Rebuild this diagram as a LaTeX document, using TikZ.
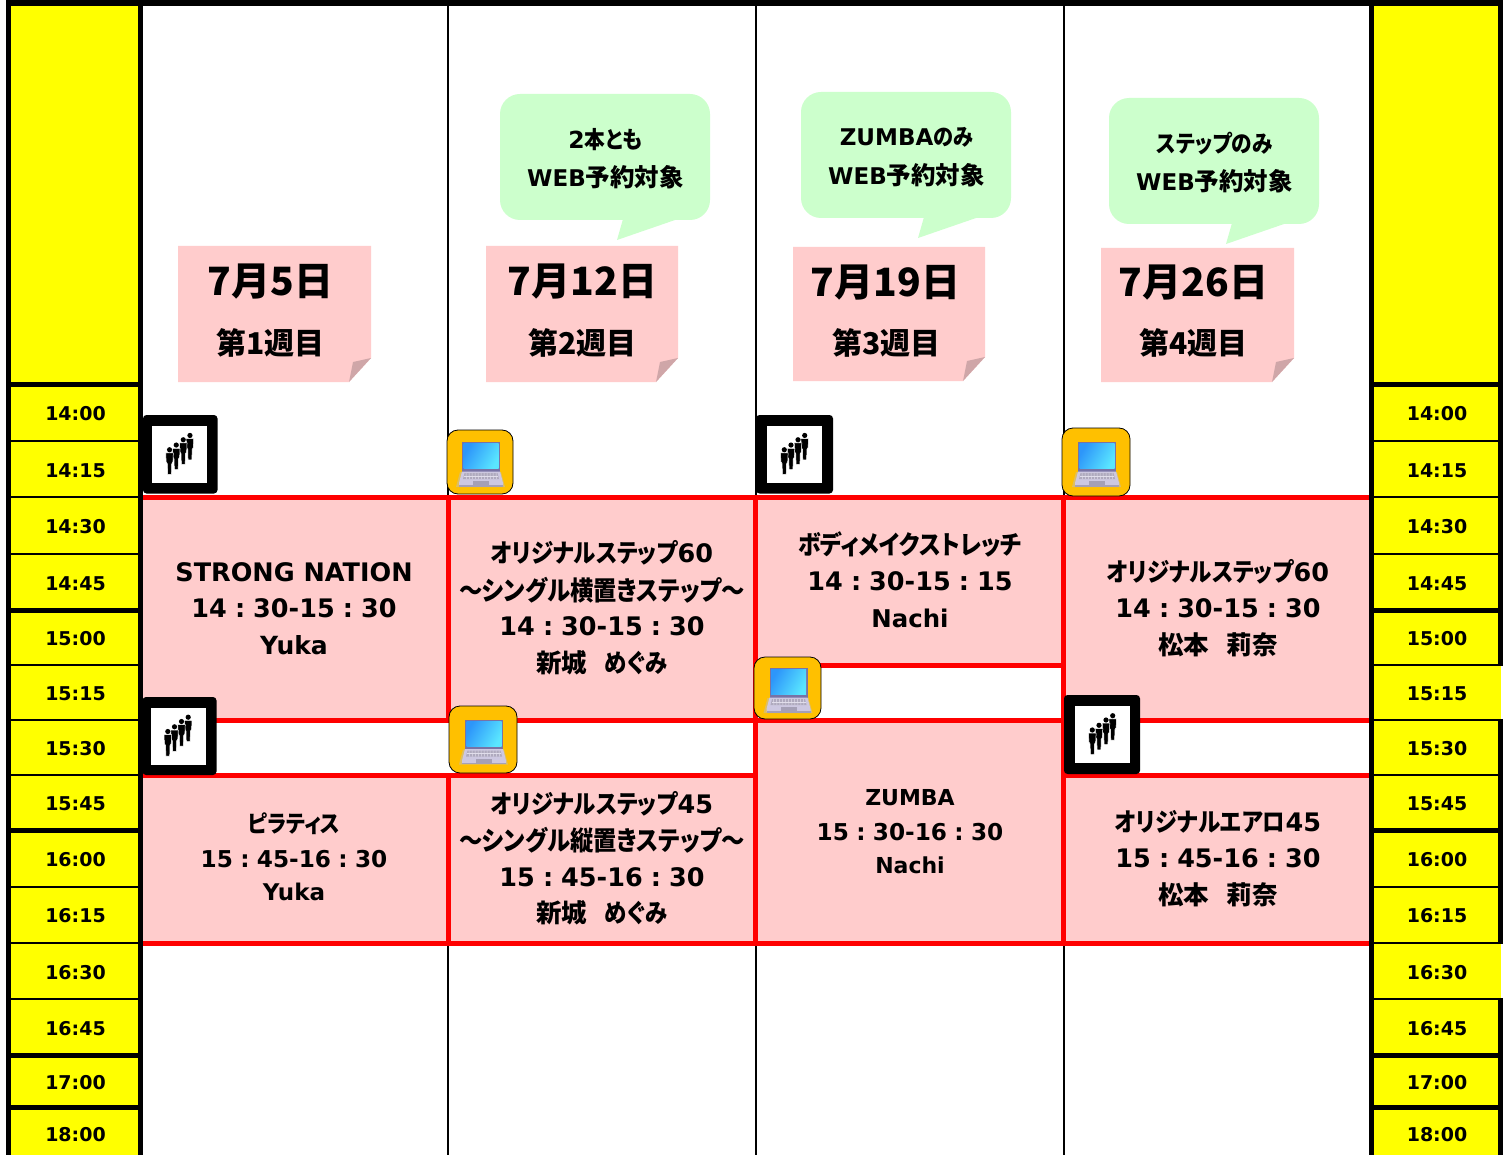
\documentclass[tikz,border=0pt]{standalone}
\usepackage{fontspec}
\setmainfont{DejaVu Sans}
\newfontfamily\jpf[RawFeature={+palt}]{Noto Sans CJK JP}
\newfontfamily\jpk[RawFeature={+palt},FakeStretch=0.88]{Noto Sans CJK JP}
\newfontfamily\jpn{Noto Sans CJK JP}
\newcommand\J[1]{{\jpf #1}}
\newcommand\K[1]{{\jpk #1}}
\newcommand\Cn{\hspace{.315em}:\hspace{.315em}}
\newcommand\fsz[1]{\fontsize{#1}{#1}\selectfont\bfseries}
\definecolor{pinkcell}{HTML}{FFCCCC}
\definecolor{greenbox}{HTML}{CCFFCC}
\definecolor{flap}{HTML}{CFA6A8}
\definecolor{lap}{HTML}{FFC000}
\definecolor{yel}{HTML}{FFFF00}
\definecolor{redl}{HTML}{FF0000}
\newcommand\tline[5]{\node[anchor=base,inner sep=0pt,font=\fsz{#4}] (#1) at ({#2},{#3+0.7+0.36*#4}) {#5};}
\newcommand\person[2]{%
  \begin{scope}[shift={(#1,#2)}]
    \fill[black,draw=white,line width=.5pt] (-3.8,3.2) -- (3.8,3.2) -- (3.4,12) -- (2.2,14) -- (1.9,24.5) -- (-1.9,24.5) -- (-2.2,14) -- (-3.4,12) -- cycle;
    \fill[black] (0,0) circle (2.6);
  \end{scope}}
\newcommand\peopleicon[6]{% name, x1,y1,x2,y2 of the outer box, x offset of the inner square
  \node[peoplebox,minimum width={(#4-#2)*1pt},minimum height={(#5-#3)*1pt}] (#1) at ({(#2+#4)/2},{(#3+#5)/2}) {};
  \begin{scope}[shift={({(#2+#4)/2+#6},{(#3+#5)/2})}]
    \fill[white] (-27.5,-28.5) rectangle (27.5,28.5);
    \person{10.2}{-18.8}\person{3.5}{-14.5}\person{-3.5}{-9.2}\person{-10.2}{-4.5}
  \end{scope}}
\newcommand\laptopicon[5]{%
  \node[lapbox,minimum width={(#4-#2)*1pt},minimum height={(#5-#3)*1pt}] (#1) at ({(#2+#4)/2},{(#3+#5)/2}) {};
  \begin{scope}[shift={({(#2+#4)/2},{(#3+#5)/2})}]
    \fill[black!25,opacity=.5] (-20,10) -- (21,10) -- (25,25) -- (-24,25) -- cycle;
    \fill[color={rgb,255:red,120;green,115;blue,165}] (-18,-20) rectangle (20,9.5);
    \shade[left color={rgb,255:red,45;green,150;blue,250},right color={rgb,255:red,90;green,230;blue,255},shading angle=60] (-16.5,-18.5) rectangle (18.5,6.5);
    \fill[color={rgb,255:red,205;green,200;blue,225}] (-18,9.5) -- (20,9.5) -- (23,21) -- (23,24) -- (-21,24) -- (-21,21) -- cycle;
    \fill[color={rgb,255:red,175;green,170;blue,190}] (-15.5,11) -- (17.5,11) -- (19,17) -- (-17,17) -- cycle;
    \foreach \kx in {-14,-11,...,16}{\draw[color={rgb,255:red,225;green,222;blue,235},line width=.5pt] (\kx,11) -- (\kx+.4,17);}
    \draw[color={rgb,255:red,225;green,222;blue,235},line width=.5pt] (-16,14) -- (18,14);
    \fill[color={rgb,255:red,165;green,160;blue,182}] (-7,19) rectangle (9,23);
    \fill[color={rgb,255:red,165;green,160;blue,182}] (-21,23) rectangle (23,24.5);
  \end{scope}}
\newcommand\noteshape[5]{% name x1 y1 x2 y2
  \fill[pinkcell] (#2,#3) -- (#4,#3) -- (#4,#5-24) -- (#4-22,#5) -- (#2,#5) -- cycle;
  \fill[flap] (#4,#5-24) -- (#4-18,#5-20) -- (#4-22,#5) -- cycle;
  \coordinate (#1) at (#2,#3);}
\newcommand\calloutshape[3]{% name x y(top); size 210x126
  \fill[greenbox,rounded corners=20pt] (#2,#3) rectangle (#2+210,#3+126);
  \fill[greenbox] (#2+123,#3+125) -- (#2+117,#3+146) -- (#2+175,#3+126) -- cycle;
  \coordinate (#1) at (#2,#3);}
\newcommand\Yoyaku{WEB{\fontsize{24.5}{24.5}\selectfont\J{予約対象}}}
\tikzset{
  peoplebox/.style={fill=black,rounded corners=3.5pt,inner sep=0pt,outer sep=0pt,draw=none},
  lapbox/.style={fill=lap,draw=black,line width=.8pt,rounded corners=11pt,inner sep=0pt,outer sep=0pt},
  timel/.style={inner sep=0pt,font=\fsz{19}}
}
\begin{document}
\begin{tikzpicture}[x=1pt,y=-1pt]
\useasboundingbox (0,0) rectangle (1509,1155);
\fill[white] (0,0) rectangle (1509,1155);
% time columns
\fill[black] (6,0) rectangle (1503,6);
\fill[black] (6,0) rectangle (143,1155);
\fill[black] (1369,0) rectangle (1503,1155);
\fill[yel] (11,6) rectangle (138,1155);
\fill[yel] (1374,6) rectangle (1498,1155);
\fill[white] (1498,666) rectangle (1503,719);
\fill[white] (1498,944) rectangle (1503,998);
\fill[yel] (1498,666) rectangle (1501.3,719);
\fill[yel] (1498,944) rectangle (1501.3,998);
\foreach \ya/\yb in {382/387,440/442,496/498,553/555,608/613,664/666,719/721,774/776,828/833,886/888,942/944,998/1000,1053/1058,1105/1110}{
  \fill[black] (11,\ya) rectangle (138,\yb);
  \fill[black] (1374,\ya) rectangle (1503,\yb);
}
% day separators
\foreach \xa in {447,755,1063}{
  \fill[black] (\xa,6) rectangle (\xa+1.8,496);
  \fill[black] (\xa,945) rectangle (\xa+1.8,1155);
}
% class cells
\fill[pinkcell] (143,495) rectangle (1369,945);
\fill[white] (143,721) rectangle (753,775);
\fill[white] (755,666) rectangle (1063,720);
\fill[white] (1064,721) rectangle (1369,775);
\foreach \ya/\yb in {495/500,941/946}{\fill[redl] (143,\ya) rectangle (1369,\yb);}
\fill[redl] (143,718) rectangle (1369,723);
\fill[redl] (143,773) rectangle (753,778);
\fill[redl] (1066,773) rectangle (1369,778);
\fill[redl] (757,663) rectangle (1061,668);
\fill[redl] (446,495) rectangle (451,723);
\fill[redl] (446,773) rectangle (451,946);
\fill[redl] (753,495) rectangle (757.5,946);
\fill[redl] (1061,495) rectangle (1066,946);
% callouts
\calloutshape{ca}{500}{94}
\calloutshape{cb}{801}{92}
\calloutshape{cc}{1109}{98}
\tline{ca1}{605.5}{139}{23.5}{2\K{本とも}}
\tline{ca2}{605.5}{178}{23}{\Yoyaku}
\tline{cb1}{906.5}{136.5}{23}{ZUMBA\K{のみ}}
\tline{cb2}{906.5}{176}{23}{\Yoyaku}
\tline{cc1}{1214.5}{143}{23.5}{\K{ステップのみ}}
\tline{cc2}{1214.5}{182}{23}{\Yoyaku}
% date notes
\noteshape{na}{178}{246}{371}{382}
\noteshape{nb}{486}{246}{678}{382}
\noteshape{nc}{793}{247}{985}{381}
\noteshape{nd}{1101}{248}{1294}{382}
\tline{da}{270.5}{281}{39}{\jpn 7月5日}
\tline{db}{582.5}{280.5}{39}{\jpn 7月12日}
\tline{dc}{885.5}{281.5}{39}{\jpn 7月19日}
\tline{dd}{1193.5}{281.5}{39}{\jpn 7月26日}
\tline{wa}{270.5}{343.5}{30}{\jpn 第1週目}
\tline{wb}{582.5}{343}{30}{\jpn 第2週目}
\tline{wc}{886.5}{343.5}{30}{\jpn 第3週目}
\tline{wd}{1193.5}{343.5}{30}{\jpn 第4週目}
% classes
\tline{e1a}{294}{572}{25.5}{STRONG NATION}
\tline{e1b}{294}{608}{25.5}{14\Cn 30-15\Cn 30}
\tline{e1c}{294}{645}{25}{Yuka}
\tline{e2a}{294}{823}{23.5}{\K{ピラティス}}
\tline{e2b}{294}{858}{23.2}{15\Cn 45-16\Cn 30}
\tline{e2c}{294}{892}{23}{Yuka}
\tline{e3a}{602}{553}{25.5}{\K{オリジナルステップ}60}
\tline{e3b}{602}{590}{26.5}{\K{～シングル横置きステップ～}}
\tline{e3c}{602}{626}{25.5}{14\Cn 30-15\Cn 30}
\tline{e3d}{602}{663}{25.5}{\J{新城　\hspace{-.3em}}\K{めぐみ}}
\tline{e4a}{602}{804}{25.5}{\K{オリジナルステップ}45}
\tline{e4b}{602}{840}{26.5}{\K{～シングル縦置きステップ～}}
\tline{e4c}{602}{877}{25.5}{15\Cn 45-16\Cn 30}
\tline{e4d}{602}{913}{25.5}{\J{新城　\hspace{-.3em}}\K{めぐみ}}
\tline{e5a}{910}{544}{26}{\K{ボディメイクストレッチ}}
\tline{e5b}{910}{581}{25.5}{14\Cn 30-15\Cn 15}
\tline{e5c}{910}{618}{24.4}{Nachi}
\tline{e6a}{910}{797}{22}{ZUMBA}
\tline{e6b}{910}{831}{23.2}{15\Cn 30-16\Cn 30}
\tline{e6c}{910}{865}{22}{Nachi}
\tline{e7a}{1218}{572}{25.5}{\K{オリジナルステップ}60}
\tline{e7b}{1218}{608}{25.5}{14\Cn 30-15\Cn 30}
\tline{e7c}{1218}{645}{25.5}{\J{松本　\hspace{-.3em}莉奈}}
\tline{e8a}{1218}{822}{25.5}{\K{オリジナルエアロ}45}
\tline{e8b}{1218}{858}{25.5}{15\Cn 45-16\Cn 30}
\tline{e8c}{1218}{895}{25.5}{\J{松本　\hspace{-.3em}莉奈}}
% time labels
\foreach \i/\yy/\tt in {1/414/14:00,2/471/14:15,3/527/14:30,4/584/14:45,5/639/15:00,6/694/15:15,7/749/15:30,8/804/15:45,9/860/16:00,10/916/16:15,11/973/16:30,12/1029/16:45,13/1083/17:00,14/1135/18:00}{
  \node[timel] (tl\i) at (75.5,\yy) {\tt};
  \node[timel] (tr\i) at (1437,\yy) {\tt};
}
% icons
\peopleicon{pa}{143}{415}{217.5}{493.5}{-0.5}
\peopleicon{pb}{142.5}{697}{216.5}{775}{-1.5}
\peopleicon{pc}{756}{415}{833}{493.5}{0}
\peopleicon{pd}{1064}{695}{1140}{774}{0.5}
\laptopicon{la}{447}{430}{513}{494}
\laptopicon{lb}{449}{706}{517}{773}
\laptopicon{lc}{754}{657}{821}{719}
\laptopicon{ld}{1062}{428}{1130}{496}
\end{tikzpicture}
\end{document}
